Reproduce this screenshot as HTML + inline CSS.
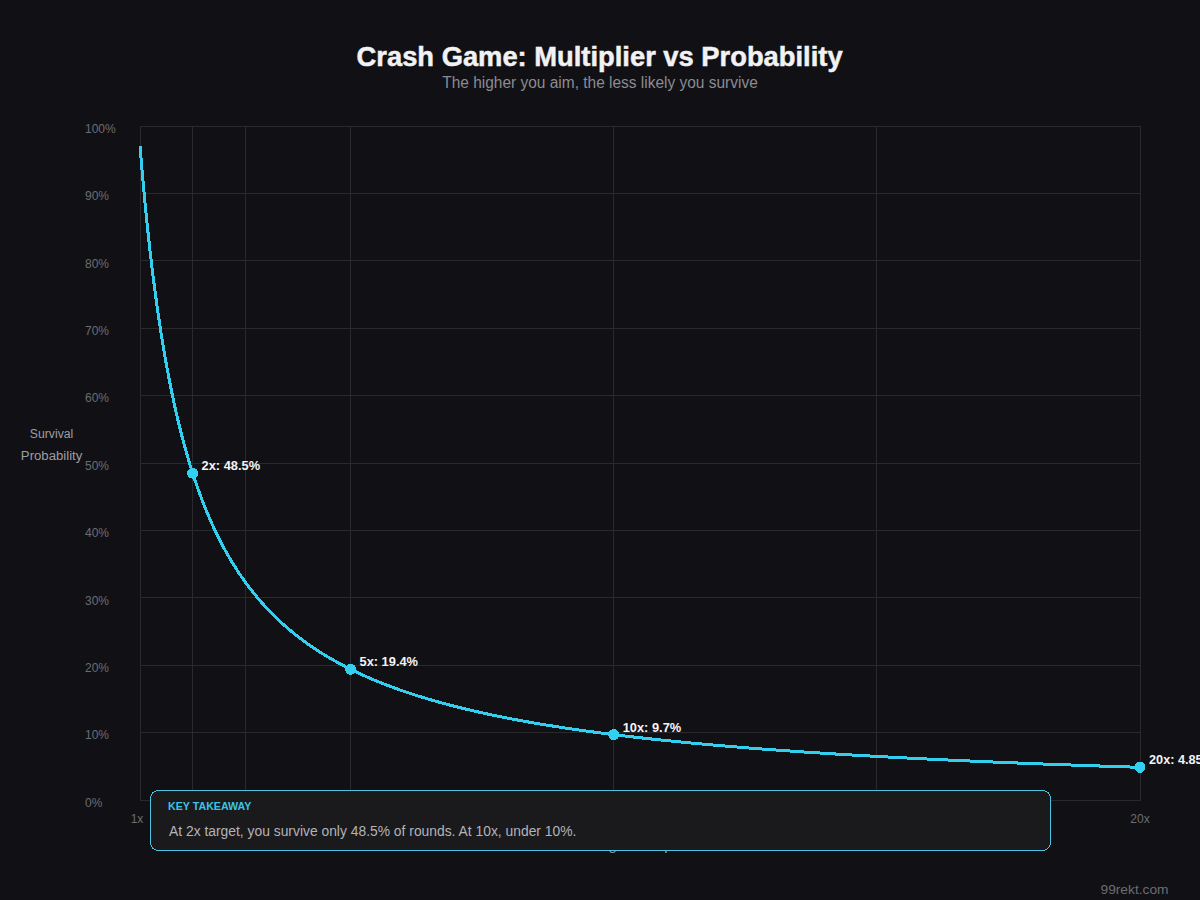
<!DOCTYPE html>
<html><head><meta charset="utf-8"><style>
html,body{margin:0;padding:0;background:#111115;}
body{width:1200px;height:900px;overflow:hidden;position:relative;font-family:"Liberation Sans",sans-serif;}
svg{position:absolute;left:0;top:0;}
svg{shape-rendering:crispEdges;}
svg text{font-family:"Liberation Sans",sans-serif;}
.yl{font-size:12px;fill:#6c6c73;}
.pl{font-size:13.5px;font-weight:700;fill:#f4f4f6;}
</style></head><body>
<svg width="1200" height="900" viewBox="0 0 1200 900">
<rect width="1200" height="900" fill="#111115"/>
<text x="599.6" y="66" text-anchor="middle" font-size="28" font-weight="700" fill="#f2f2f4" stroke="#f2f2f4" stroke-width="0.5" textLength="486" lengthAdjust="spacingAndGlyphs">Crash Game: Multiplier vs Probability</text>
<text x="600" y="88" text-anchor="middle" font-size="16" fill="#8b8b92" textLength="315.6" lengthAdjust="spacingAndGlyphs">The higher you aim, the less likely you survive</text>
<line x1="140.5" y1="126.0" x2="140.5" y2="800.5" stroke="#2a2a2e" stroke-width="1"/>
<line x1="192.5" y1="126.0" x2="192.5" y2="800.5" stroke="#2a2a2e" stroke-width="1"/>
<line x1="245.5" y1="126.0" x2="245.5" y2="800.5" stroke="#2a2a2e" stroke-width="1"/>
<line x1="350.5" y1="126.0" x2="350.5" y2="800.5" stroke="#2a2a2e" stroke-width="1"/>
<line x1="613.5" y1="126.0" x2="613.5" y2="800.5" stroke="#2a2a2e" stroke-width="1"/>
<line x1="876.5" y1="126.0" x2="876.5" y2="800.5" stroke="#2a2a2e" stroke-width="1"/>
<line x1="1140.5" y1="126.0" x2="1140.5" y2="800.5" stroke="#2a2a2e" stroke-width="1"/>
<line x1="140.0" y1="800.5" x2="1141.0" y2="800.5" stroke="#2a2a2e" stroke-width="1"/>
<line x1="140.0" y1="732.5" x2="1141.0" y2="732.5" stroke="#2a2a2e" stroke-width="1"/>
<line x1="140.0" y1="665.5" x2="1141.0" y2="665.5" stroke="#2a2a2e" stroke-width="1"/>
<line x1="140.0" y1="597.5" x2="1141.0" y2="597.5" stroke="#2a2a2e" stroke-width="1"/>
<line x1="140.0" y1="530.5" x2="1141.0" y2="530.5" stroke="#2a2a2e" stroke-width="1"/>
<line x1="140.0" y1="463.5" x2="1141.0" y2="463.5" stroke="#2a2a2e" stroke-width="1"/>
<line x1="140.0" y1="395.5" x2="1141.0" y2="395.5" stroke="#2a2a2e" stroke-width="1"/>
<line x1="140.0" y1="328.5" x2="1141.0" y2="328.5" stroke="#2a2a2e" stroke-width="1"/>
<line x1="140.0" y1="260.5" x2="1141.0" y2="260.5" stroke="#2a2a2e" stroke-width="1"/>
<line x1="140.0" y1="193.5" x2="1141.0" y2="193.5" stroke="#2a2a2e" stroke-width="1"/>
<line x1="140.0" y1="126.5" x2="1141.0" y2="126.5" stroke="#2a2a2e" stroke-width="1"/>
<text x="85" y="806.8" class="yl">0%</text>
<text x="85" y="739.4" class="yl">10%</text>
<text x="85" y="672.0" class="yl">20%</text>
<text x="85" y="604.6" class="yl">30%</text>
<text x="85" y="537.2" class="yl">40%</text>
<text x="85" y="469.8" class="yl">50%</text>
<text x="85" y="402.4" class="yl">60%</text>
<text x="85" y="335.0" class="yl">70%</text>
<text x="85" y="267.6" class="yl">80%</text>
<text x="85" y="200.2" class="yl">90%</text>
<text x="85" y="132.8" class="yl">100%</text>
<polyline points="140.00,146.22 142.50,175.87 145.00,202.94 147.50,227.76 150.00,250.61 152.50,271.69 155.00,291.22 157.50,309.36 160.00,326.25 162.50,342.01 165.00,356.76 167.50,370.59 170.00,383.58 172.50,395.81 175.00,407.34 177.50,418.23 180.00,428.53 182.50,438.30 185.00,447.56 187.50,456.36 190.00,464.73 192.50,472.70 195.00,480.30 197.50,487.56 200.00,494.50 202.50,501.13 205.00,507.48 207.50,513.57 210.00,519.41 212.50,525.01 215.00,530.40 217.50,535.58 220.00,540.56 222.50,545.36 225.00,549.99 227.50,554.45 230.00,558.75 232.50,562.91 235.00,566.92 237.50,570.80 240.00,574.56 242.50,578.19 245.00,581.71 247.50,585.12 250.00,588.42 252.50,591.62 255.00,594.73 257.50,597.75 260.00,600.68 262.50,603.52 265.00,606.29 267.50,608.98 270.00,611.59 272.50,614.14 275.00,616.61 277.50,619.02 280.00,621.37 282.50,623.66 285.00,625.89 287.50,628.07 290.00,630.19 292.50,632.26 295.00,634.28 297.50,636.25 300.00,638.17 302.50,640.05 305.00,641.89 307.50,643.69 310.00,645.44 312.50,647.16 315.00,648.84 317.50,650.48 320.00,652.09 322.50,653.66 325.00,655.20 327.50,656.71 330.00,658.18 332.50,659.63 335.00,661.05 337.50,662.43 340.00,663.80 342.50,665.13 345.00,666.44 347.50,667.72 350.00,668.98 352.50,670.22 355.00,671.43 357.50,672.62 360.00,673.79 362.50,674.93 365.00,676.06 367.50,677.17 370.00,678.25 372.50,679.32 375.00,680.37 377.50,681.40 380.00,682.41 382.50,683.41 385.00,684.39 387.50,685.35 390.00,686.30 392.50,687.23 395.00,688.15 397.50,689.05 400.00,689.94 402.50,690.81 405.00,691.67 407.50,692.51 410.00,693.35 412.50,694.17 415.00,694.98 417.50,695.77 420.00,696.55 422.50,697.33 425.00,698.09 427.50,698.83 430.00,699.57 432.50,700.30 435.00,701.02 437.50,701.72 440.00,702.42 442.50,703.11 445.00,703.79 447.50,704.45 450.00,705.11 452.50,705.76 455.00,706.40 457.50,707.03 460.00,707.66 462.50,708.27 465.00,708.88 467.50,709.48 470.00,710.07 472.50,710.66 475.00,711.23 477.50,711.80 480.00,712.36 482.50,712.92 485.00,713.46 487.50,714.00 490.00,714.54 492.50,715.07 495.00,715.59 497.50,716.10 500.00,716.61 502.50,717.11 505.00,717.61 507.50,718.10 510.00,718.58 512.50,719.06 515.00,719.53 517.50,720.00 520.00,720.46 522.50,720.92 525.00,721.37 527.50,721.82 530.00,722.26 532.50,722.70 535.00,723.13 537.50,723.56 540.00,723.98 542.50,724.40 545.00,724.81 547.50,725.22 550.00,725.62 552.50,726.02 555.00,726.42 557.50,726.81 560.00,727.20 562.50,727.58 565.00,727.96 567.50,728.33 570.00,728.70 572.50,729.07 575.00,729.44 577.50,729.80 580.00,730.15 582.50,730.50 585.00,730.85 587.50,731.20 590.00,731.54 592.50,731.88 595.00,732.22 597.50,732.55 600.00,732.88 602.50,733.20 605.00,733.53 607.50,733.84 610.00,734.16 612.50,734.47 615.00,734.79 617.50,735.09 620.00,735.40 622.50,735.70 625.00,736.00 627.50,736.29 630.00,736.59 632.50,736.88 635.00,737.17 637.50,737.45 640.00,737.74 642.50,738.02 645.00,738.29 647.50,738.57 650.00,738.84 652.50,739.11 655.00,739.38 657.50,739.65 660.00,739.91 662.50,740.17 665.00,740.43 667.50,740.69 670.00,740.94 672.50,741.19 675.00,741.44 677.50,741.69 680.00,741.94 682.50,742.18 685.00,742.42 687.50,742.66 690.00,742.90 692.50,743.14 695.00,743.37 697.50,743.60 700.00,743.83 702.50,744.06 705.00,744.29 707.50,744.51 710.00,744.74 712.50,744.96 715.00,745.18 717.50,745.39 720.00,745.61 722.50,745.82 725.00,746.04 727.50,746.25 730.00,746.46 732.50,746.66 735.00,746.87 737.50,747.07 740.00,747.28 742.50,747.48 745.00,747.68 747.50,747.87 750.00,748.07 752.50,748.27 755.00,748.46 757.50,748.65 760.00,748.84 762.50,749.03 765.00,749.22 767.50,749.41 770.00,749.59 772.50,749.78 775.00,749.96 777.50,750.14 780.00,750.32 782.50,750.50 785.00,750.68 787.50,750.85 790.00,751.03 792.50,751.20 795.00,751.37 797.50,751.54 800.00,751.71 802.50,751.88 805.00,752.05 807.50,752.22 810.00,752.38 812.50,752.55 815.00,752.71 817.50,752.87 820.00,753.03 822.50,753.19 825.00,753.35 827.50,753.51 830.00,753.67 832.50,753.82 835.00,753.98 837.50,754.13 840.00,754.28 842.50,754.43 845.00,754.58 847.50,754.73 850.00,754.88 852.50,755.03 855.00,755.17 857.50,755.32 860.00,755.46 862.50,755.61 865.00,755.75 867.50,755.89 870.00,756.03 872.50,756.17 875.00,756.31 877.50,756.45 880.00,756.59 882.50,756.72 885.00,756.86 887.50,757.00 890.00,757.13 892.50,757.26 895.00,757.39 897.50,757.53 900.00,757.66 902.50,757.79 905.00,757.92 907.50,758.04 910.00,758.17 912.50,758.30 915.00,758.42 917.50,758.55 920.00,758.67 922.50,758.80 925.00,758.92 927.50,759.04 930.00,759.16 932.50,759.29 935.00,759.41 937.50,759.52 940.00,759.64 942.50,759.76 945.00,759.88 947.50,760.00 950.00,760.11 952.50,760.23 955.00,760.34 957.50,760.45 960.00,760.57 962.50,760.68 965.00,760.79 967.50,760.90 970.00,761.01 972.50,761.13 975.00,761.23 977.50,761.34 980.00,761.45 982.50,761.56 985.00,761.67 987.50,761.77 990.00,761.88 992.50,761.98 995.00,762.09 997.50,762.19 1000.00,762.30 1002.50,762.40 1005.00,762.50 1007.50,762.60 1010.00,762.71 1012.50,762.81 1015.00,762.91 1017.50,763.01 1020.00,763.10 1022.50,763.20 1025.00,763.30 1027.50,763.40 1030.00,763.50 1032.50,763.59 1035.00,763.69 1037.50,763.78 1040.00,763.88 1042.50,763.97 1045.00,764.07 1047.50,764.16 1050.00,764.25 1052.50,764.35 1055.00,764.44 1057.50,764.53 1060.00,764.62 1062.50,764.71 1065.00,764.80 1067.50,764.89 1070.00,764.98 1072.50,765.07 1075.00,765.16 1077.50,765.25 1080.00,765.34 1082.50,765.42 1085.00,765.51 1087.50,765.60 1090.00,765.68 1092.50,765.77 1095.00,765.85 1097.50,765.94 1100.00,766.02 1102.50,766.10 1105.00,766.19 1107.50,766.27 1110.00,766.35 1112.50,766.43 1115.00,766.52 1117.50,766.60 1120.00,766.68 1122.50,766.76 1125.00,766.84 1127.50,766.92 1130.00,767.00 1132.50,767.08 1135.00,767.15 1137.50,767.23 1140.00,767.31" fill="none" stroke="#33cfee" stroke-width="3" stroke-linejoin="round" shape-rendering="crispEdges"/>
<circle cx="192.63" cy="473.11" r="5.5" fill="#33cfee"/>
<text x="201.6" y="470.1" class="pl" textLength="58.5" lengthAdjust="spacingAndGlyphs">2x: 48.5%</text>
<circle cx="350.53" cy="669.24" r="5.5" fill="#33cfee"/>
<text x="359.5" y="666.2" class="pl" textLength="58.5" lengthAdjust="spacingAndGlyphs">5x: 19.4%</text>
<circle cx="613.68" cy="734.62" r="5.5" fill="#33cfee"/>
<text x="622.7" y="731.6" class="pl" textLength="58.5" lengthAdjust="spacingAndGlyphs">10x: 9.7%</text>
<circle cx="1140.00" cy="767.31" r="5.5" fill="#33cfee"/>
<text x="1149.0" y="764.3" class="pl" textLength="65" lengthAdjust="spacingAndGlyphs">20x: 4.85%</text>
<text x="51.6" y="438" text-anchor="middle" font-size="12.5" fill="#9d9da3" textLength="43.5" lengthAdjust="spacingAndGlyphs">Survival</text>
<text x="51.6" y="460" text-anchor="middle" font-size="12.5" fill="#9d9da3" textLength="61.5" lengthAdjust="spacingAndGlyphs">Probability</text>
<text x="137" y="823" text-anchor="middle" font-size="12" fill="#6c6c73">1x</text>
<text x="1140" y="823" text-anchor="middle" font-size="12" fill="#6c6c73">20x</text>
<text x="640" y="850" text-anchor="middle" font-size="13.5" fill="#9d9da3" textLength="104" lengthAdjust="spacingAndGlyphs">Target Multiplier</text>
<rect x="150.5" y="790.5" width="900" height="60" rx="8" ry="8" fill="#1a1a1c" stroke="#4cc3e0" stroke-width="1"/>
<text x="168" y="810" font-size="11" font-weight="700" fill="#3cc4e6" textLength="83.4" lengthAdjust="spacingAndGlyphs">KEY TAKEAWAY</text>
<text x="169" y="836" font-size="14" fill="#b3b3b8" textLength="407.4" lengthAdjust="spacingAndGlyphs">At 2x target, you survive only 48.5% of rounds. At 10x, under 10%.</text>
<text x="1168.5" y="894" text-anchor="end" font-size="13.5" fill="#6c6c73" textLength="68" lengthAdjust="spacingAndGlyphs">99rekt.com</text>
</svg>
</body></html>
